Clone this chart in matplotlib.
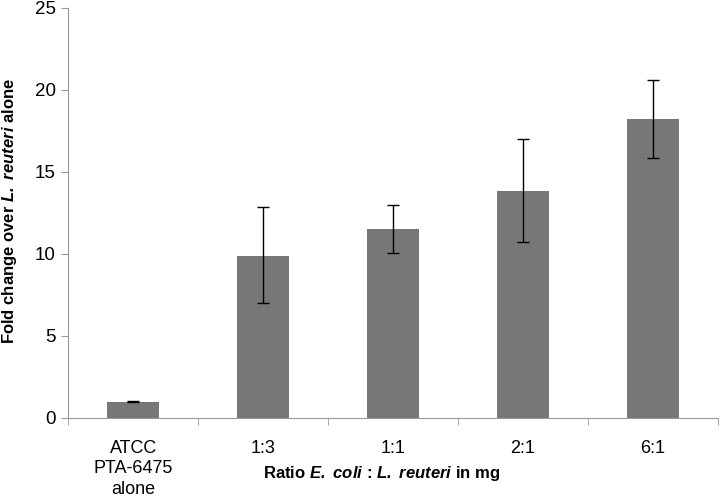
import numpy as np
import matplotlib.pyplot as plt

plt.rcParams['font.family'] = ['Liberation Sans', 'DejaVu Sans']
plt.rcParams['mathtext.fontset'] = 'custom'
plt.rcParams['mathtext.rm'] = 'Liberation Sans:bold'
plt.rcParams['mathtext.bfit'] = 'Liberation Sans:italic:bold'

categories = ['ATCC\nPTA-6475\nalone', '1:3', '1:1', '2:1', '6:1']
fold_change = [1.0, 9.9, 11.5, 13.85, 18.2]
err_low = [0.05, 2.9, 1.45, 3.15, 2.35]
err_high = [0.05, 2.95, 1.5, 3.15, 2.4]

fig, ax = plt.subplots(figsize=(7.2, 4.97), dpi=100)
fig.subplots_adjust(left=0.095, right=0.997, top=0.984, bottom=0.159)

x = np.arange(len(categories))
ax.bar(x, fold_change, width=0.4, color='#777777', zorder=2)
ax.errorbar(x, fold_change, yerr=[err_low, err_high], fmt='none',
            ecolor='black', elinewidth=1, capsize=4.5, capthick=1, zorder=3)

ax.set_xlim(-0.5, len(categories) - 0.5)
ax.set_ylim(0, 25)
ax.set_yticks([0, 5, 10, 15, 20, 25])

# category labels centred, ticks on the boundaries
ax.set_xticks(x)
ax.set_xticklabels(categories, fontsize=13, linespacing=1.3)
ax.tick_params(axis='x', length=0, pad=15.5)
ax.set_xticks(np.arange(-0.5, len(categories)), minor=True)
ax.tick_params(axis='x', which='minor', length=5, color='#999999', direction='out')
ax.tick_params(axis='y', length=5, color='#999999', labelsize=13.5, pad=4)

for s in ['top', 'right']:
    ax.spines[s].set_visible(False)
for s in ['left', 'bottom']:
    ax.spines[s].set_color('#999999')

ax.set_ylabel(r'Fold change over $\mathbfit{L.}$ $\mathbfit{reuteri}$ alone',
              fontsize=12, fontweight='bold')
ax.yaxis.set_label_coords(-0.076, 0.505)
ax.set_xlabel(r'Ratio $\mathbfit{E.}$ $\mathbfit{coli}$ : $\mathbfit{L.}$ $\mathbfit{reuteri}$ in mg',
              fontsize=12, fontweight='bold', va='center')
ax.xaxis.set_label_coords(0.482, -0.135)

plt.savefig('out.png', dpi=100)
